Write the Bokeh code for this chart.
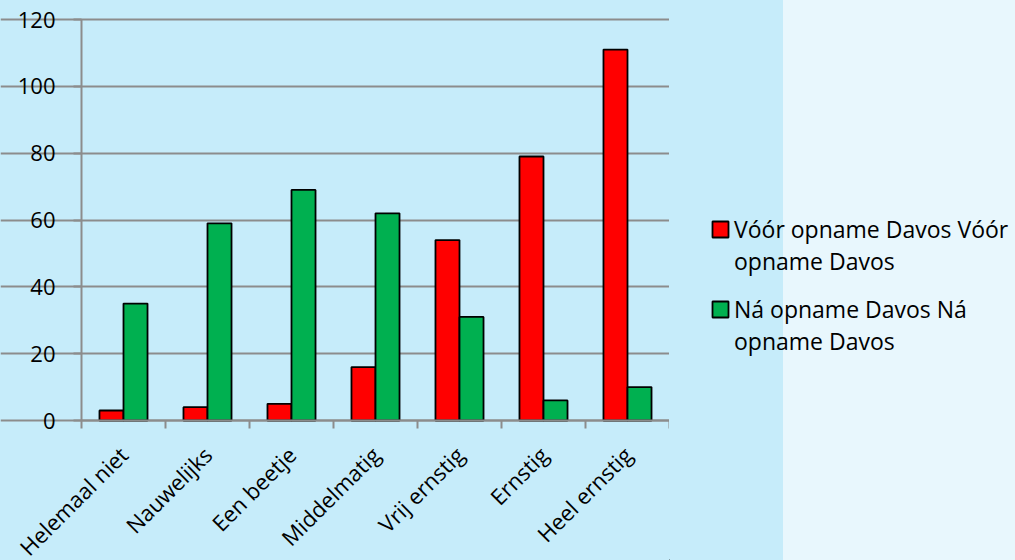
import math
from bokeh.plotting import figure
from bokeh.layouts import row
from bokeh.models import FixedTicker, Legend, LegendItem, ColumnDataSource, Range1d
from bokeh.embed import file_html
from bokeh.resources import INLINE

categories = ["Helemaal niet", "Nauwelijks", "Een beetje", "Middelmatig",
              "Vrij ernstig", "Ernstig", "Heel ernstig"]
voor = [3, 4, 5, 16, 54, 79, 111]
na = [35, 59, 69, 62, 31, 6, 10]
y_ticks = [0, 20, 40, 60, 80, 100, 120]
series_lines = [["Vóór opname Davos Vóór", "opname Davos"],
                ["Ná opname Davos Ná", "opname Davos"]]
colors = ["#FF0000", "#00B050"]

# layout (pixels) of the plotting area inside the left figure
W, H = 669, 560
AREA_L, AREA_R, AREA_T, AREA_B = 81, 669, 19, 420
n = len(categories)
ymax = 120

centers = [i + 0.5 for i in range(n)]
bounds = list(range(n + 1))
bw = 0.286

px_x = (AREA_R - AREA_L) / n
px_y = (AREA_B - AREA_T) / ymax
x_range = Range1d(-AREA_L / px_x, (W - AREA_L) / px_x)
y_range = Range1d(-(H - AREA_B) / px_y, ymax + AREA_T / px_y)

src = ColumnDataSource(dict(
    xv=[c - bw / 2 for c in centers], xn=[c + bw / 2 for c in centers],
    voor=voor, na=na))

p = figure(width=W, height=H, x_range=x_range, y_range=y_range,
           output_backend="svg", toolbar_location=None, min_border=0)
p.background_fill_color = None
p.border_fill_color = None
p.outline_line_color = None
p.styles = {"background": "#C6ECFA"}

p.vbar(x="xv", top="voor", width=bw, source=src, fill_color=colors[0],
       line_color="black", line_width=1.8)
p.vbar(x="xn", top="na", width=bw, source=src, fill_color=colors[1],
       line_color="black", line_width=1.8)

grey = "#8C8C8C"
p.xgrid.visible = False
p.ygrid.ticker = FixedTicker(ticks=y_ticks)
p.ygrid.bounds = (0, n)
p.ygrid.grid_line_color = grey
p.ygrid.grid_line_width = 2
p.ygrid.level = "underlay"

p.yaxis.fixed_location = 0
p.yaxis.bounds = (0, ymax)
p.yaxis.ticker = FixedTicker(ticks=y_ticks)
p.yaxis.axis_line_color = grey
p.yaxis.axis_line_width = 2
p.yaxis.major_tick_line_color = grey
p.yaxis.major_tick_line_width = 2
p.yaxis.major_tick_in = 0
p.yaxis.major_tick_out = 8
p.yaxis.minor_tick_line_color = None
p.yaxis.major_label_standoff = 18
p.yaxis.major_label_text_font = "Open Sans"
p.yaxis.major_label_text_font_size = "22px"
p.yaxis.major_label_text_color = "black"

p.xaxis.fixed_location = 0
p.xaxis.bounds = (0, n)
p.xaxis.ticker = FixedTicker(ticks=centers, minor_ticks=bounds)
p.xaxis.major_label_overrides = {c: lab for c, lab in zip(centers, categories)}
p.xaxis.major_tick_line_color = None
p.xaxis.minor_tick_line_color = grey
p.xaxis.minor_tick_line_width = 2
p.xaxis.minor_tick_in = 0
p.xaxis.minor_tick_out = 8
p.xaxis.axis_line_color = grey
p.xaxis.axis_line_width = 2
p.xaxis.major_label_orientation = math.pi / 4
p.xaxis.major_label_standoff = 22
p.xaxis.major_label_text_font = "Open Sans"
p.xaxis.major_label_text_font_size = "22px"
p.xaxis.major_label_text_color = "black"

# legend panel
q = figure(width=1015 - W, height=H, x_range=(0, 1), y_range=(0, 1),
           x_axis_type=None, y_axis_type=None, output_backend="svg",
           toolbar_location=None, min_border=0)
q.background_fill_color = None
q.border_fill_color = None
q.outline_line_color = None
q.grid.visible = False
q.styles = {"background": "linear-gradient(90deg, #C6ECFA 114px, #E8F7FD 114px)"}

dummy = ColumnDataSource(dict(x=[-5], top=[-5]))
locs = [(41, 283), (41, 203)]
for lines, col, loc in zip(series_lines, colors, locs):
    rr = q.vbar(x="x", top="top", width=1, source=dummy, fill_color=col,
                line_color="black", line_width=1.8)
    blank = q.vbar(x="x", top="top", width=1, source=dummy, fill_alpha=0, line_alpha=0)
    lg = Legend(items=[LegendItem(label=lines[0], renderers=[rr]),
                       LegendItem(label=lines[1], renderers=[blank])],
                location=loc)
    lg.background_fill_alpha = 0
    lg.border_line_color = None
    lg.padding = 0
    lg.margin = 0
    lg.spacing = 0
    lg.label_height = 32
    lg.label_text_font = "Open Sans"
    lg.label_text_font_size = "23px"
    lg.label_text_color = "black"
    lg.glyph_width = 20
    lg.glyph_height = 20
    lg.label_standoff = 4
    q.add_layout(lg, "center")

layout = row(p, q, spacing=0)
open("out.html", "w").write(file_html(layout, INLINE))
